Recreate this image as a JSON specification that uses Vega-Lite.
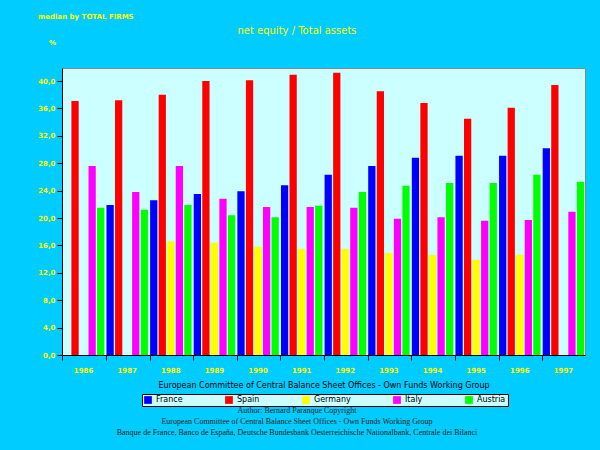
{
"$schema":"https://vega.github.io/schema/vega-lite/v6.json",
"width":523,"height":287,
"autosize":{"type":"none"},
"padding":{"left":62,"top":68,"right":15,"bottom":95},
"background":"#00ccff",
"layer":[
{"data":{"values":[
{"y":"1986","c":"France","v":null},{"y":"1986","c":"Spain","v":37.1},{"y":"1986","c":"Germany","v":null},{"y":"1986","c":"Italy","v":27.6},{"y":"1986","c":"Austria","v":21.5},
{"y":"1987","c":"France","v":21.9},{"y":"1987","c":"Spain","v":37.2},{"y":"1987","c":"Germany","v":null},{"y":"1987","c":"Italy","v":23.8},{"y":"1987","c":"Austria","v":21.2},
{"y":"1988","c":"France","v":22.6},{"y":"1988","c":"Spain","v":38.0},{"y":"1988","c":"Germany","v":16.6},{"y":"1988","c":"Italy","v":27.6},{"y":"1988","c":"Austria","v":21.9},
{"y":"1989","c":"France","v":23.5},{"y":"1989","c":"Spain","v":40.0},{"y":"1989","c":"Germany","v":16.4},{"y":"1989","c":"Italy","v":22.8},{"y":"1989","c":"Austria","v":20.4},
{"y":"1990","c":"France","v":23.9},{"y":"1990","c":"Spain","v":40.1},{"y":"1990","c":"Germany","v":15.8},{"y":"1990","c":"Italy","v":21.6},{"y":"1990","c":"Austria","v":20.1},
{"y":"1991","c":"France","v":24.8},{"y":"1991","c":"Spain","v":40.9},{"y":"1991","c":"Germany","v":15.5},{"y":"1991","c":"Italy","v":21.6},{"y":"1991","c":"Austria","v":21.8},
{"y":"1992","c":"France","v":26.3},{"y":"1992","c":"Spain","v":41.2},{"y":"1992","c":"Germany","v":15.5},{"y":"1992","c":"Italy","v":21.5},{"y":"1992","c":"Austria","v":23.8},
{"y":"1993","c":"France","v":27.6},{"y":"1993","c":"Spain","v":38.5},{"y":"1993","c":"Germany","v":14.9},{"y":"1993","c":"Italy","v":19.9},{"y":"1993","c":"Austria","v":24.7},
{"y":"1994","c":"France","v":28.8},{"y":"1994","c":"Spain","v":36.8},{"y":"1994","c":"Germany","v":14.6},{"y":"1994","c":"Italy","v":20.1},{"y":"1994","c":"Austria","v":25.1},
{"y":"1995","c":"France","v":29.1},{"y":"1995","c":"Spain","v":34.5},{"y":"1995","c":"Germany","v":13.9},{"y":"1995","c":"Italy","v":19.6},{"y":"1995","c":"Austria","v":25.1},
{"y":"1996","c":"France","v":29.1},{"y":"1996","c":"Spain","v":36.1},{"y":"1996","c":"Germany","v":14.6},{"y":"1996","c":"Italy","v":19.7},{"y":"1996","c":"Austria","v":26.3},
{"y":"1997","c":"France","v":30.2},{"y":"1997","c":"Spain","v":39.4},{"y":"1997","c":"Germany","v":null},{"y":"1997","c":"Italy","v":20.9},{"y":"1997","c":"Austria","v":25.3}
]},
"mark":{"type":"bar"},
"encoding":{
"x":{"field":"y","type":"nominal","scale":{"paddingInner":0.05,"paddingOuter":0.02},"axis":{"title":"European Committee of Central Balance Sheet Offices - Own Funds Working Group","titleColor":"#000000","titleFont":"DejaVu Sans","titleFontSize":8,"titleFontWeight":"normal","titlePadding":8,"labelAngle":0,"labelColor":"#ffff00","labelFont":"DejaVu Sans","labelFontSize":7,"labelFontWeight":"bold","labelPadding":6,"domainColor":"#000000","tickColor":"#000000","bandPosition":0,"tickSize":5}},
"xOffset":{"field":"c","type":"nominal","sort":["France","Spain","Germany","Italy","Austria"],"scale":{"paddingInner":0.15}},
"y":{"field":"v","type":"quantitative","scale":{"domain":[0,41.9],"nice":false},"axis":{"title":"%","titleAngle":0,"titleColor":"#ffff00","titleFontSize":8,"titleFontWeight":"bold","titleX":-10,"titleY":-22,"values":[0,4,8,12,16,20,24,28,32,36,40],"format":".1f","labelExpr":"replace(datum.label,'.',',')","labelColor":"#ffff00","labelFont":"DejaVu Sans","labelFontSize":7,"labelFontWeight":"bold","grid":false,"domainColor":"#000000","tickColor":"#000000","tickSize":5}},
"color":{"field":"c","type":"nominal","sort":["France","Spain","Germany","Italy","Austria"],"scale":{"domain":["France","Spain","Germany","Italy","Austria"],"range":["#0000ff","#ff0000","#ffff00","#ff00ff","#00ff00"]},
"legend":{"title":null,"orient":"none","legendX":80,"legendY":326,"direction":"horizontal","columns":5,"columnPadding":42,"fillColor":"#ccffff","strokeColor":"#000000","padding":2,"symbolType":"square","symbolSize":60,"symbolStrokeWidth":0,"labelFontSize":8,"labelFont":"DejaVu Sans","labelColor":"#000000"}}
}},
{"data":{"values":[{}]},"mark":{"type":"text","align":"left","fontSize":7,"font":"DejaVu Sans","color":"#ffff00","fontWeight":"bold"},
"encoding":{"text":{"value":"median by TOTAL FIRMS"},"x":{"value":-24},"y":{"value":-51}}},
{"data":{"values":[{}]},"mark":{"type":"text","align":"center","fontSize":10,"font":"DejaVu Sans","color":"#ffff00"},
"encoding":{"text":{"value":"net equity / Total assets"},"x":{"value":235},"y":{"value":-37}}},
{"data":{"values":[{}]},"mark":{"type":"text","align":"center","baseline":"top","fontSize":8,"font":"Liberation Serif","color":"#222222","lineHeight":11},
"encoding":{"text":{"value":["Author: Bernard Paranque Copyright","European Committee of Central Balance Sheet Offices - Own Funds Working Group","Banque de France, Banco de España, Deutsche Bundesbank Oesterreichische Nationalbank, Centrale dei Bilanci"]},"x":{"value":235},"y":{"value":339}}}
],
"config":{"view":{"fill":"#ccffff","stroke":"#888888"}}
}
